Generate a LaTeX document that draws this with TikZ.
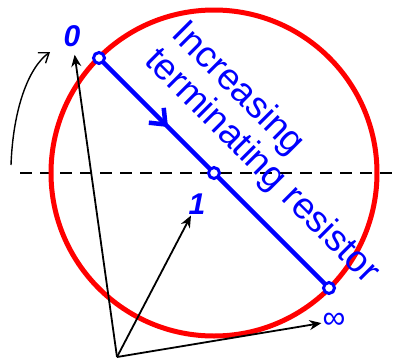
\documentclass[tikz,border=0pt]{standalone}
\usepackage{fontspec}
\setmainfont{Liberation Sans}
\usetikzlibrary{arrows.meta}
\usetikzlibrary{decorations.markings}
\tikzset{
  marker/.style={circle,draw=blue,fill=white,line width=3pt,minimum size=11pt,inner sep=0pt},
  vec/.style={black,line width=1.8pt,-{Stealth[length=12pt,width=10pt]}},
  lbl/.style={text=blue,font=\fontsize{30}{32}\selectfont\bfseries\itshape,inner sep=1pt},
  caption/.style={text=blue,font=\fontsize{37}{44}\selectfont,rotate=-45,anchor=base west,inner sep=0pt}
}

\begin{document}
\begin{tikzpicture}[x=1pt,y=-1pt]
\useasboundingbox (0,0) rectangle (400,360);
\coordinate (C) at (214,173);
\coordinate (P0) at (99,58);
\coordinate (Pinf) at (329,288);
\coordinate (O) at (117,357);
\coordinate (dl) at (20,173);
\coordinate (dr) at (400,173);
\coordinate (cs) at (11,165);
\coordinate (ce) at (50,52);

\draw[black,line width=2pt,dash pattern=on 12pt off 8pt] (dl) -- (dr);
\draw[red,line width=5pt] (C) circle[radius=163];

\node[lbl] (zero) at (72,36) {0};
\node[lbl] (one) at (197,204) {1};
\node[lbl,font=\fontsize{32}{34}\selectfont] (inf) at (334,321) {∞};
\draw[vec,shorten >=7pt] (O) -- (zero);
\draw[vec] (O) -- (one);
\draw[vec] (O) -- (inf);
\draw[black,line width=1.4pt,-{Straight Barb[length=9pt,width=13pt]}] (cs) .. controls (13,110) and (28,68) .. (ce);

% terminating resistor path
\draw[blue,line width=4.5pt,postaction={decorate},
  decoration={markings,mark=at position 0.3 with {\arrow{Straight Barb[length=13pt,width=21pt,line width=4.5pt]}}}] (P0) -- (Pinf);
\node[marker] (m0) at (P0) {};
\node[marker] (m1) at (C) {};
\node[marker] (minf) at (Pinf) {};

\node[caption] (line1) at (170.5,35.6) {Increasing};
\node[caption] (line2) at (143.5,62.5) {terminating resistor};
\end{tikzpicture}
\end{document}
